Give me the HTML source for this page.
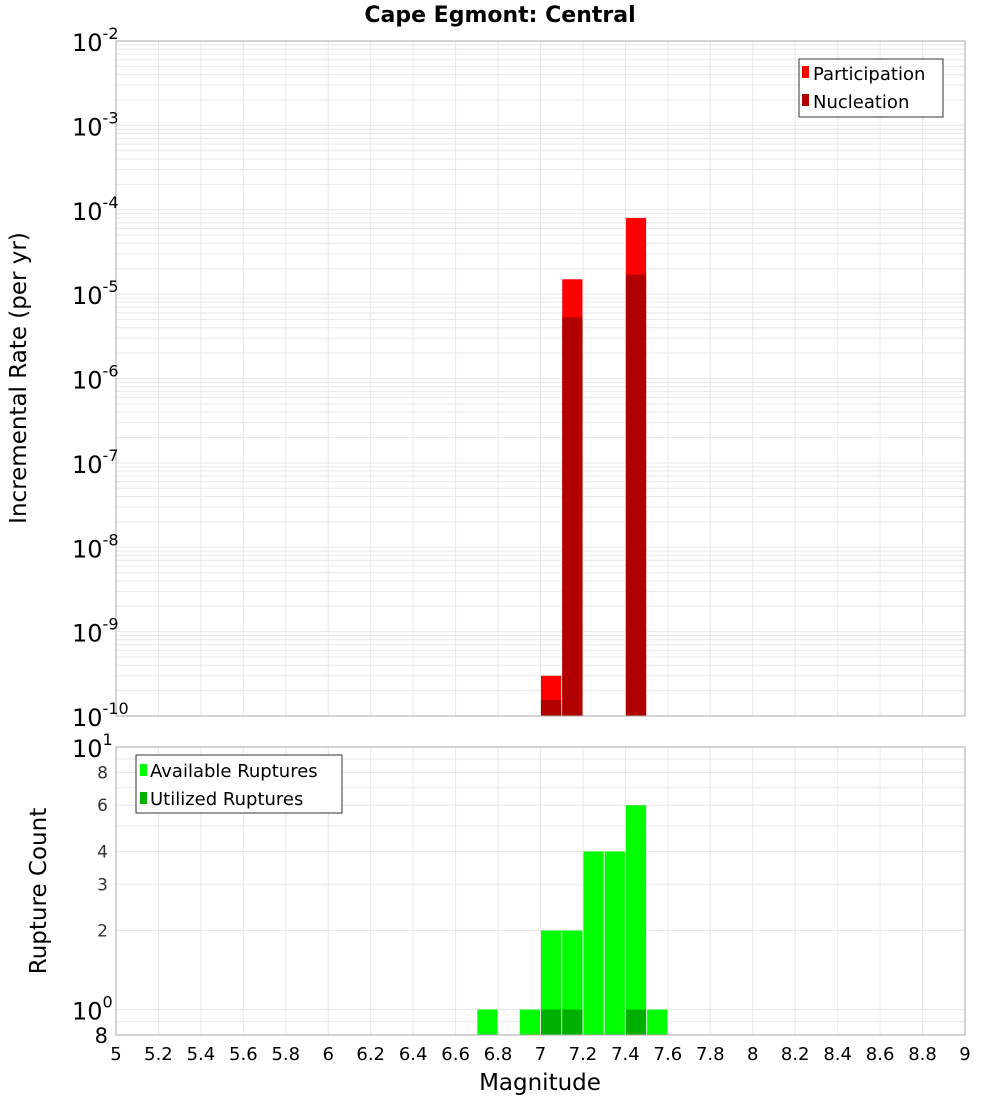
<!DOCTYPE html>
<html><head><meta charset="utf-8"><style>
body{margin:0;background:#fff;}
svg text{font-family:"DejaVu Sans","Liberation Sans",sans-serif;}
</style></head><body>
<svg id="c" width="1000" height="1100" xmlns="http://www.w3.org/2000/svg"></svg>
<script>
const mags = [6.75, 6.95, 7.05, 7.15, 7.25, 7.35, 7.45, 7.55];
const participation = [0, 0, 3e-10, 1.5e-5, 0, 0, 8e-5, 0];
const nucleation = [0, 0, 1.55e-10, 5.3e-6, 0, 0, 1.7e-5, 0];
const available = [1, 1, 2, 2, 4, 4, 6, 1];
const utilized = [0, 0, 1, 1, 0, 0, 1, 0];
const xTicks = [5,5.2,5.4,5.6,5.8,6,6.2,6.4,6.6,6.8,7,7.2,7.4,7.6,7.8,8,8.2,8.4,8.6,8.8,9];
const topExps = [-10,-9,-8,-7,-6,-5,-4,-3,-2];
const botTicks = [2,3,4,6,8];

const svg = document.getElementById('c');
const NS = 'http://www.w3.org/2000/svg';
function mk(tag, attrs, parent){const e=document.createElementNS(NS,tag);for(const k in attrs)e.setAttribute(k,attrs[k]);(parent||svg).appendChild(e);return e;}
const L=116,R=965, T1=41,B1=716, T2=747,B2=1035;
const x = v => L + (v-5)/4*(R-L);
const y1 = v => B1 - (Math.log10(v)+10)/8*(B1-T1);
const y2 = v => B2 - (Math.log10(v)-Math.log10(0.8))/(1-Math.log10(0.8))*(B2-T2);

for(let e=-10;e<-2;e++)for(let m=1;m<10;m++){const yy=y1(m*Math.pow(10,e));
 const g=mk('line',{x1:L,x2:R,y1:yy,y2:yy,stroke:'#e8e8e8','stroke-width':1});
 }
for(const v of [0.9,1,2,3,4,5,6,7,8,9,10]){const yy=y2(v);
 const g=mk('line',{x1:L,x2:R,y1:yy,y2:yy,stroke:'#e8e8e8','stroke-width':1});
 }
for(const t of xTicks){const xx=x(t);
 for(const [a,b] of [[T1,B1],[T2,B2]]){const g=mk('line',{x1:xx,x2:xx,y1:a,y2:b,stroke:'#e8e8e8','stroke-width':1});
 }}

const bw = (R-L)/40;
mags.forEach((m,i)=>{
 if(participation[i]>0){const r=mk('rect',{x:x(m-0.05)+0.5,y:y1(participation[i]),width:bw-1,height:B1-y1(participation[i]),fill:'#ff0000'});
  }
 if(nucleation[i]>0){const r=mk('rect',{x:x(m-0.05)+0.5,y:y1(nucleation[i]),width:bw-1,height:B1-y1(nucleation[i]),fill:'#b00000'});
  }
 if(available[i]>0){const r=mk('rect',{x:x(m-0.05)+0.5,y:y2(available[i]),width:bw-1,height:B2-y2(available[i]),fill:'#00ff00'});
  }
 if(utilized[i]>0){const r=mk('rect',{x:x(m-0.05)+0.5,y:y2(utilized[i]),width:bw-1,height:B2-y2(utilized[i]),fill:'#00b000'});
  }
});

let f=mk('rect',{x:L,y:T1,width:R-L,height:B1-T1,fill:'none',stroke:'#aaa'});

f=mk('rect',{x:L,y:T2,width:R-L,height:B2-T2,fill:'none',stroke:'#aaa'});


for(const e of topExps){const t=mk('text',{x:72,y:y1(Math.pow(10,e))+10,'font-size':24,fill:'#000'});
 
 t.textContent='10';const s=mk('tspan',{dy:-12,'font-size':16},t);s.textContent=String(e);}
for(const v of botTicks){const t=mk('text',{x:108,y:y2(v)+6,'font-size':17,'text-anchor':'end',fill:'#333'});
 t.textContent=String(v);}
for(const [v,lab] of [[1,'0'],[10,'1']]){const t=mk('text',{x:72,y:y2(v)+10,'font-size':24,fill:'#000'});
 
 t.textContent='10';const s=mk('tspan',{dy:-12,'font-size':16},t);s.textContent=lab;}
let t8=mk('text',{x:108,y:1043,'font-size':21,'text-anchor':'end',fill:'#000'});
t8.textContent='8';

for(const v of xTicks){const t=mk('text',{x:x(v),y:1060,'font-size':18,'text-anchor':'middle',fill:'#000'});
 t.textContent=String(v);}
</script>
<svg style="position:absolute;left:0;top:0" width="1000" height="1100">
<text x="500" y="22" font-size="22" font-weight="bold" text-anchor="middle" font-family="DejaVu Sans, Liberation Sans, sans-serif">Cape Egmont: Central</text>
<text x="540" y="1090" font-size="23" text-anchor="middle" font-family="DejaVu Sans, Liberation Sans, sans-serif">Magnitude</text>
<text transform="translate(26,378) rotate(-90)" font-size="23" text-anchor="middle" font-family="DejaVu Sans, Liberation Sans, sans-serif">Incremental Rate (per yr)</text>
<text transform="translate(46,891) rotate(-90)" font-size="23" text-anchor="middle" font-family="DejaVu Sans, Liberation Sans, sans-serif">Rupture Count</text>
<g font-family="DejaVu Sans, Liberation Sans, sans-serif" font-size="18">
<rect x="799" y="59" width="144" height="58" fill="#fff" stroke="#333"/>
<rect x="802" y="66" width="7" height="12" fill="#ff0000"/><text x="813" y="80">Participation</text>
<rect x="802" y="94" width="7" height="12" fill="#b00000"/><text x="813" y="108">Nucleation</text>
</g>
<g font-family="DejaVu Sans, Liberation Sans, sans-serif" font-size="18">
<rect x="136" y="755" width="206" height="58" fill="#fff" stroke="#333"/>
<rect x="140" y="764" width="7" height="12" fill="#00ff00"/><text x="150" y="777">Available Ruptures</text>
<rect x="140" y="792" width="7" height="12" fill="#00b000"/><text x="150" y="805">Utilized Ruptures</text>
</g>
</svg>
</body></html>
